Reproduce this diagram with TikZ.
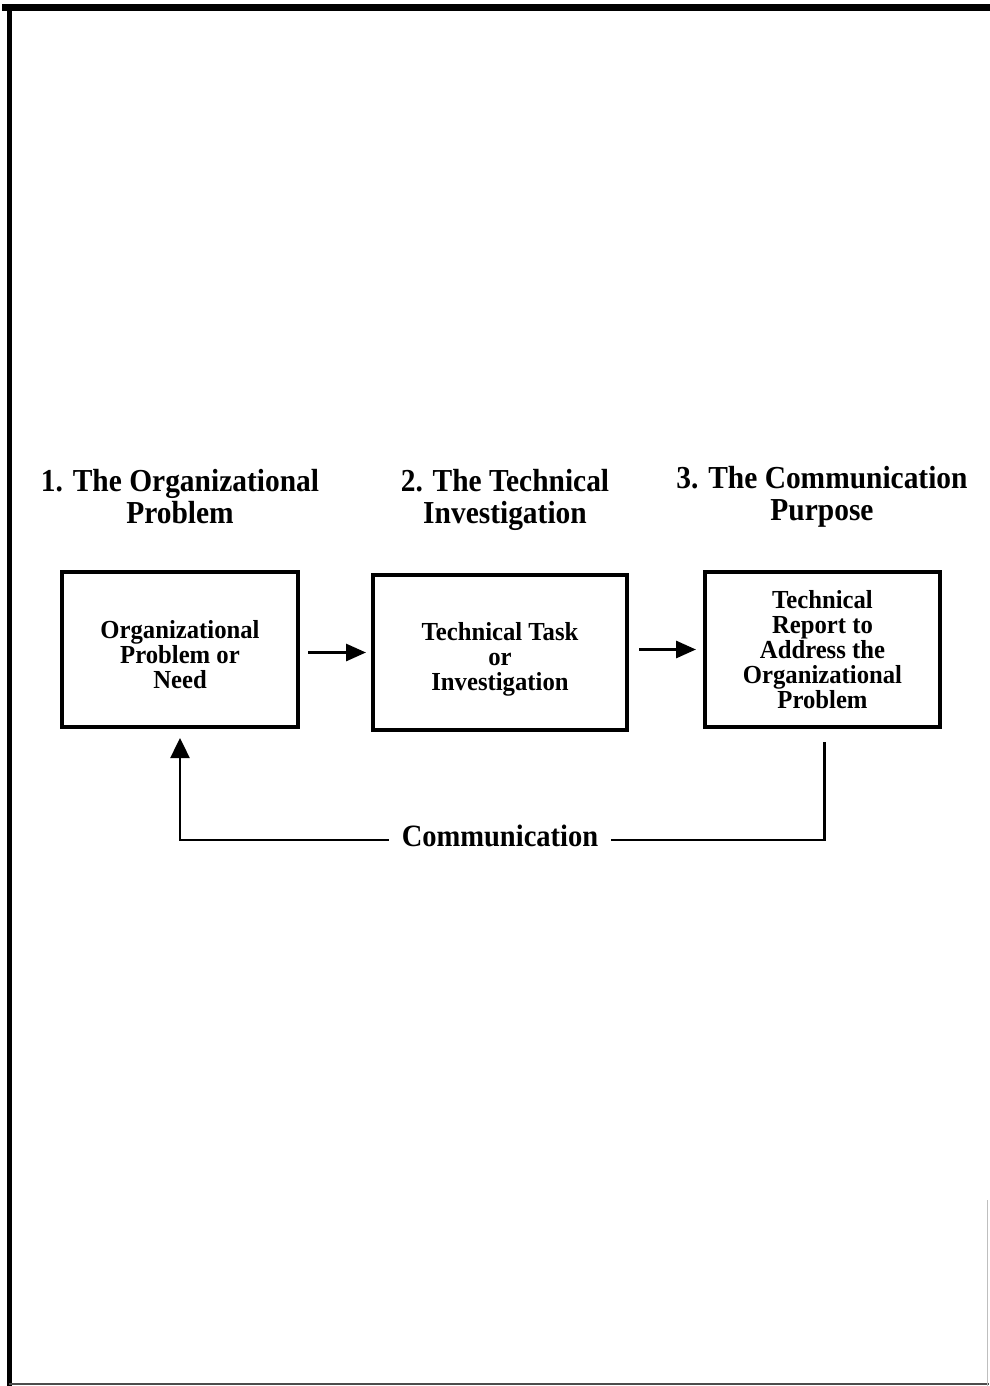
\documentclass[tikz,border=0pt]{standalone}
\usepackage{fontspec}
\setmainfont{Liberation Serif}
\newfontfamily\hdfont[FakeStretch=0.92]{Liberation Serif}
\newfontfamily\bxfont[FakeStretch=0.95]{Liberation Serif}
\usetikzlibrary{arrows.meta,calc}
\begin{document}
\begin{tikzpicture}[x=1pt,y=-1pt,
  heading/.style={align=center,font=\hdfont\bfseries\fontsize{32}{32}\selectfont,inner sep=0pt},
  box/.style={draw,line width=4pt,align=center,inner sep=0pt,
    font=\bxfont\bfseries\fontsize{26}{25}\selectfont},
  arr/.style={line width=3pt,-{Triangle[length=20pt,width=17pt]}},
  fb/.style={line width=2.5pt},
  fbarr/.style={line width=2.5pt,-{Triangle[length=20pt,width=19pt]}},
  lbl/.style={font=\hdfont\bfseries\fontsize{31}{30}\selectfont,text height=12pt,text depth=0pt,inner ysep=0pt,inner xsep=13pt},
  frame/.style={line width=#1,line cap=rect}
]
\useasboundingbox (0,0) rectangle (989,1386);
% page frame
\draw[frame=7pt] (5,8) -- (989,8);
\draw[frame=5pt] (9,8) -- (9,1386);
\draw[line width=2.5pt,black!70] (9,1384) -- (989,1384);
\draw[line width=1pt,black!25] (987,1200) -- (987,1386);

% headings
\node[heading] (h1) at (180,497) {1. The Organizational\\Problem};
\node[heading] (h2) at (505,500) {2. The Technical\\Investigation};
\node[heading] (h3) at (822,497) {3. The Communication\\Purpose};

% boxes
\node[box,minimum width=236pt,minimum height=155pt] (b1) at (180,649.5)
  {\rule{0pt}{28pt}Organizational\\Problem or\\Need};
\node[box,minimum width=254pt,minimum height=155pt] (b2) at (500,652.5)
  {\rule{0pt}{32pt}Technical Task\\or\\Investigation};
\node[box,minimum width=235pt,minimum height=155pt] (b3) at (822.5,649.5)
  {Technical\\Report to\\Address the\\Organizational\\Problem};

% forward arrows
\draw[arr,shorten <=8pt,shorten >=5pt] (b1.east |- b2.west) -- (b2.west);
\draw[arr,shorten <=10pt,shorten >=7pt] (b2.east |- b3.west) -- (b3.west);

% feedback loop
\node[lbl,anchor=base] (comm) at (500,846) {Communication};
\coordinate (s3) at ($(b3.south)+(2,13)$);
\coordinate (t1) at ($(b1.south)+(0,9)$);
\draw[fb] (s3) |- (comm.east);
\draw[fbarr] (comm.west) -| (t1);
\end{tikzpicture}
\end{document}
